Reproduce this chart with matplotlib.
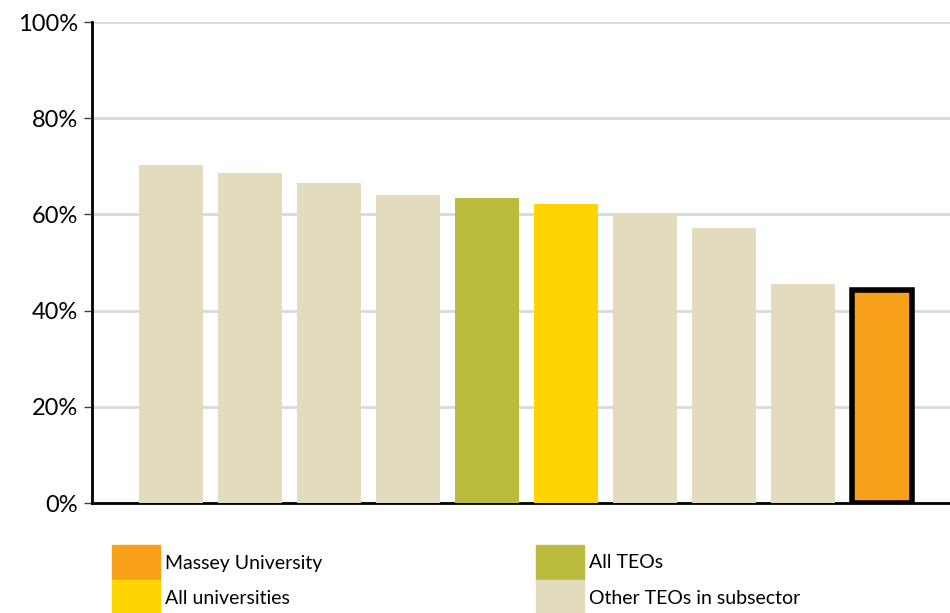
import matplotlib.pyplot as plt
from matplotlib.patches import Rectangle

plt.rcParams['font.family'] = ['Lato', 'DejaVu Sans']

# bar values (%)
values = [70.3, 68.6, 66.5, 64.0, 63.4, 62.2, 60.3, 57.2, 45.5, 44.3]
groups = ['other', 'other', 'other', 'other', 'all_teo', 'all_uni',
          'other', 'other', 'other', 'massey']
colours = {'massey': '#F9A01B', 'all_uni': '#FFD500',
           'all_teo': '#BBBC3F', 'other': '#E3DBBD'}
legend_labels = ['Massey University', 'All universities', 'All TEOs', 'Other TEOs in subsector']
legend_keys = ['massey', 'all_uni', 'all_teo', 'other']
yticks = [0, 20, 40, 60, 80, 100]

fig = plt.figure(figsize=(9.5, 6.13), dpi=100)
ax = fig.add_axes([0.0968, 0.1794, 0.9032, 0.7847])

x = range(1, len(values) + 1)
for xi, v, g in zip(x, values, groups):
    if g == 'massey':
        ax.bar(xi, v, width=0.76, color=colours[g], edgecolor='black', linewidth=4, zorder=3)
    else:
        ax.bar(xi, v, width=0.8, color=colours[g], zorder=3)

ax.set_xlim(0, 10.86)
ax.set_ylim(0, 100)
ax.set_yticks(yticks)
ax.set_yticklabels([f'{t}%' for t in yticks], fontsize=17)
ax.set_xticks([])
ax.yaxis.grid(True, color='#d9d9d9', linewidth=2, zorder=0)
ax.set_axisbelow(True)
ax.tick_params(axis='y', length=6, width=1, color='#404040', pad=4)
for s in ['top', 'right']:
    ax.spines[s].set_visible(False)
ax.spines['left'].set_linewidth(2)
ax.spines['bottom'].set_linewidth(2)

# legend drawn by hand (two columns, stacked swatches)
W, H = 950, 613
pos = [(112, 545), (112, 580), (536, 545), (536, 580)]
for (px, py), key, lab in zip(pos, legend_keys, legend_labels):
    fig.add_artist(Rectangle((px / W, 1 - (py + 35) / H), 48 / W, 35 / H,
                             transform=fig.transFigure, color=colours[key]))
    fig.text((px + 53) / W, 1 - (py + 18) / H, lab, fontsize=14, va='center', ha='left')

fig.savefig('out.png', dpi=100)
